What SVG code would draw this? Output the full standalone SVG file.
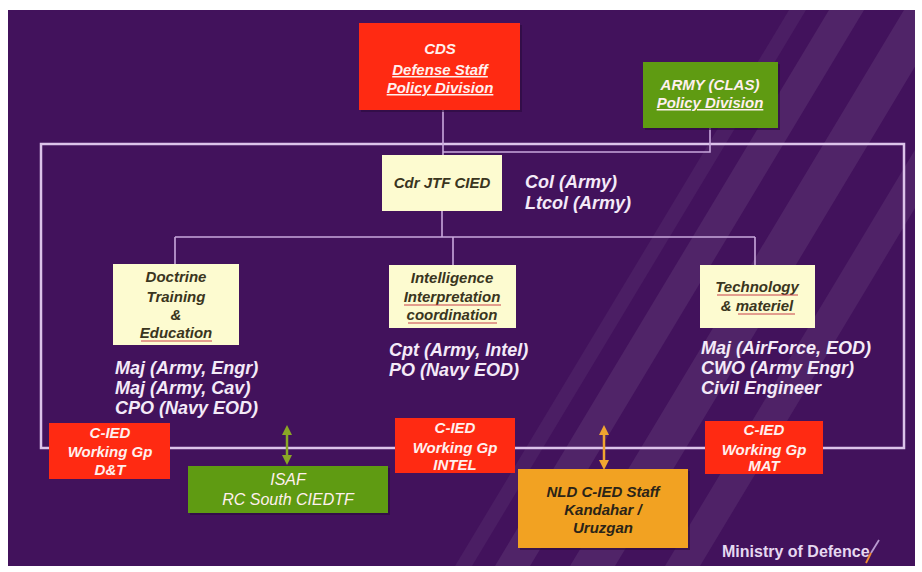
<svg xmlns="http://www.w3.org/2000/svg" width="922" height="572" viewBox="0 0 922 572">
<defs>
<clipPath id="bgclip"><rect x="8" y="10" width="907" height="556"/></clipPath>
<marker id="ahG" viewBox="0 0 10 10" refX="5" refY="5" markerWidth="4" markerHeight="4" orient="auto-start-reverse"><path d="M0,0 L10,5 L0,10 z" fill="#8aa626"/></marker>
<marker id="ahO" viewBox="0 0 10 10" refX="5" refY="5" markerWidth="4" markerHeight="4" orient="auto-start-reverse"><path d="M0,0 L10,5 L0,10 z" fill="#f0a530"/></marker>
</defs>
<style>
.red{fill:#ff2a12}
.green{fill:#5f9b12}
.cream{fill:#fdfbd0}
.orange{fill:#f2a222}
.shadow{fill:#2a0a3c;opacity:0.6}
.t{font-family:"Liberation Sans",Arial,sans-serif;text-anchor:middle;font-style:italic}
.wt{fill:#fff0ee;font-weight:bold;font-size:15px}
.dk{fill:#3a3520;font-weight:bold;font-size:15px}
.pers{font-family:"Liberation Sans",Arial,sans-serif;font-style:italic;font-weight:bold;font-size:18px;fill:#f4eaf8}
.outer{fill:none;stroke:#dcc3ea;stroke-width:2.5}
.thin{fill:none;stroke:#c9a8dc;stroke-width:1.6}
.sq{stroke:#c8404a;stroke-width:1}
</style>
<rect x="0" y="0" width="922" height="572" fill="#ffffff"/>
<rect x="8" y="10" width="907" height="556" fill="#42125c"/>
<g clip-path="url(#bgclip)" fill="#ffffff">
<polygon points="455,566 472,566 806,10 789,10" opacity="0.05"/>
<polygon points="495,566 530,566 864,10 829,10" opacity="0.08"/>
<polygon points="570,566 615,566 949,10 904,10" opacity="0.08"/>
<polygon points="665,566 700,566 1034,10 999,10" opacity="0.07"/>
</g>
<g id="connectors">
<polyline class="outer" points="50,448 41,448 41,144 904,144 904,448 823,448"/>
<line class="outer" x1="170" y1="448" x2="395" y2="448"/>
<line class="outer" x1="515" y1="448" x2="705" y2="448"/>
<polyline class="thin" points="443,110 443,155"/>
<polyline class="thin" points="443,152 710,152 710,128"/>
<line class="thin" x1="442" y1="211" x2="442" y2="237"/>
<line class="thin" x1="175" y1="237" x2="755" y2="237"/>
<line class="thin" x1="175" y1="237" x2="175" y2="264"/>
<line class="thin" x1="453" y1="237" x2="453" y2="265"/>
<line class="thin" x1="755" y1="237" x2="755" y2="265"/>
<line x1="287" y1="430" x2="287" y2="460" stroke="#8aa626" stroke-width="2.5" marker-start="url(#ahG)" marker-end="url(#ahG)"/>
<line x1="604" y1="430" x2="604" y2="465" stroke="#f0a530" stroke-width="2.5" marker-start="url(#ahO)" marker-end="url(#ahO)"/>
</g>
<g id="cds">
<rect class="shadow" x="361" y="25" width="161" height="87"/>
<rect class="red" x="359" y="23" width="161" height="87"/>
<text class="t wt" x="440" y="54">CDS</text>
<text class="t wt" x="440" y="75" text-decoration="underline">Defense Staff</text>
<text class="t wt" x="440" y="93" text-decoration="underline">Policy Division</text>
</g>
<g id="army">
<rect class="shadow" x="645" y="64" width="135" height="66"/>
<rect class="green" x="643" y="62" width="135" height="66"/>
<text class="t wt" x="710" y="90">ARMY (CLAS)</text>
<text class="t wt" x="710" y="108" text-decoration="underline">Policy Division</text>
</g>
<g id="cdr">
<rect class="cream" x="382" y="155" width="120" height="56"/>
<text class="t dk" x="442" y="188">Cdr JTF CIED</text>
<text class="pers" x="525" y="188">Col (Army)</text>
<text class="pers" x="525" y="209">Ltcol (Army)</text>
</g>
<g id="doctrine">
<rect class="cream" x="113" y="264" width="126" height="81"/>
<text class="t dk" x="176" y="282">Doctrine</text>
<text class="t dk" x="176" y="302">Training</text>
<text class="t dk" x="176" y="320">&amp;</text>
<text class="t dk" x="176" y="338">Education</text>
<line class="sq" x1="141" y1="341" x2="212" y2="341"/>
<text class="pers" x="115" y="374">Maj (Army, Engr)</text>
<text class="pers" x="115" y="394">Maj (Army, Cav)</text>
<text class="pers" x="115" y="414">CPO (Navy EOD)</text>
</g>
<g id="intelligence">
<rect class="cream" x="389" y="265" width="127" height="63"/>
<text class="t dk" x="452" y="283">Intelligence</text>
<text class="t dk" x="452" y="302">Interpretation</text>
<text class="t dk" x="452" y="320">coordination</text>
<line class="sq" x1="404" y1="305" x2="501" y2="305"/>
<line class="sq" x1="408" y1="323" x2="497" y2="323"/>
<text class="pers" x="389" y="356">Cpt (Army, Intel)</text>
<text class="pers" x="389" y="376">PO (Navy EOD)</text>
</g>
<g id="technology">
<rect class="cream" x="700" y="265" width="115" height="63"/>
<text class="t dk" x="757" y="292">Technology</text>
<text class="t dk" x="757" y="311">&amp; materiel</text>
<line class="sq" x1="717" y1="295" x2="798" y2="295"/>
<line class="sq" x1="738" y1="314" x2="795" y2="314"/>
<text class="pers" x="701" y="354">Maj (AirForce, EOD)</text>
<text class="pers" x="701" y="374">CWO (Army Engr)</text>
<text class="pers" x="701" y="394">Civil Engineer</text>
</g>
<g id="wg-dt">
<rect class="red" x="49" y="423" width="121" height="56"/>
<text class="t wt" x="110" y="438">C-IED</text>
<text class="t wt" x="110" y="457">Working Gp</text>
<text class="t wt" x="110" y="475">D&amp;T</text>
</g>
<g id="isaf">
<rect class="shadow" x="190" y="468" width="200" height="47"/>
<rect class="green" x="188" y="466" width="200" height="47"/>
<text class="t wt" x="288" y="485" style="font-weight:normal;font-size:16px">ISAF</text>
<text class="t wt" x="288" y="505" style="font-weight:normal;font-size:16px">RC South CIEDTF</text>
</g>
<g id="wg-intel">
<rect class="red" x="395" y="418" width="120" height="55"/>
<text class="t wt" x="455" y="433">C-IED</text>
<text class="t wt" x="455" y="453">Working Gp</text>
<text class="t wt" x="455" y="470">INTEL</text>
</g>
<g id="nld">
<rect class="shadow" x="520" y="471" width="170" height="79"/>
<rect class="orange" x="518" y="469" width="170" height="79"/>
<text class="t dk" x="603" y="497" style="fill:#2a2418">NLD C-IED Staff</text>
<text class="t dk" x="603" y="515" style="fill:#2a2418">Kandahar /</text>
<text class="t dk" x="603" y="533" style="fill:#2a2418">Uruzgan</text>
</g>
<g id="wg-mat">
<rect class="red" x="705" y="421" width="118" height="53"/>
<text class="t wt" x="764" y="435">C-IED</text>
<text class="t wt" x="764" y="455">Working Gp</text>
<text class="t wt" x="764" y="471">MAT</text>
</g>
<g id="logo">
<text x="722" y="557" font-family="'Liberation Sans',Arial,sans-serif" font-weight="bold" font-size="16" fill="#e6d8f0">Ministry of Defence</text>
<line x1="871" y1="553" x2="879" y2="540" stroke="#b89ad0" stroke-width="1.8"/>
<line x1="866" y1="563" x2="871" y2="553" stroke="#f08a30" stroke-width="1.8"/>
</g>
</svg>
